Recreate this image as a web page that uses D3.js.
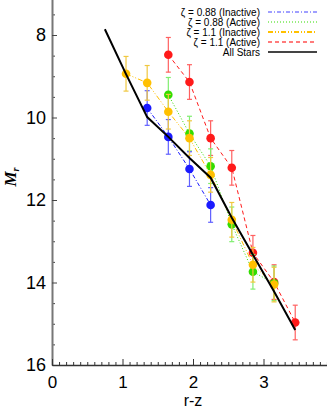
<!DOCTYPE html>
<html>
<head>
<meta charset="utf-8">
<script src="https://cdn.jsdelivr.net/npm/d3@7"></script>
<style>
  html, body { margin: 0; padding: 0; background: #fff; }
  svg { display: block; font-family: "Liberation Sans", Arial, sans-serif; }
</style>
</head>
<body>
<div id="chart"></div>
<script>
// r-z colour bins and absolute magnitudes M_r
const allX = [0.75, 1.05, 1.35, 1.65, 1.95, 2.25, 2.55, 2.85, 3.15, 3.45];
const allM = [7.86, 8.95, 9.99, 10.47, 10.98, 11.46, 12.43, 13.33, 14.22, 15.15];

const blueX = [1.35, 1.65, 1.95, 2.25];
const blueM = [9.77, 10.47, 11.25, 12.12];
const blueErr = [0.42, 0.42, 0.42, 0.42];

const greenX = [1.65, 1.95, 2.25, 2.55, 2.85, 3.15];
const greenM = [9.45, 10.39, 11.18, 12.59, 13.74, 14.02];
const greenErr = [0.42, 0.42, 0.42, 0.42, 0.42, 0.42];

const yellowX = [1.05, 1.35, 1.65, 1.95, 2.25, 2.55, 2.85, 3.15];
const yellowM = [8.94, 9.16, 9.86, 10.5, 11.39, 12.48, 13.57, 14.05];
const yellowErr = [0.42, 0.42, 0.42, 0.42, 0.42, 0.42, 0.42, 0.42];

const redX = [1.65, 1.95, 2.25, 2.55, 2.85, 3.15, 3.45];
const redM = [8.48, 9.14, 10.5, 11.22, 13.28, 13.99, 14.97];
const redErr = [0.42, 0.42, 0.42, 0.42, 0.42, 0.42, 0.42];

const xTicks = [0, 1, 2, 3];
const yTicks = [8, 10, 12, 14, 16];

const legendLabels = [
  'ζ = 0.88 (Inactive)',
  'ζ = 0.88 (Active)',
  'ζ = 1.1 (Inactive)',
  'ζ = 1.1 (Active)',
  'All Stars'
];

const width = 327;
const height = 408;

const svg = d3.select('#chart')
  .append('svg')
  .attr('width', width)
  .attr('height', height);

// Scales
const x = d3.scaleLinear().domain([0, 4]).range([52, 334]);
const y = d3.scaleLinear().domain([7, 16]).range([-6.25, 365]);

// Series definitions (style only)
const series = [
  { xs: redX, ms: redM, err: redErr, color: '#ff1a1a', bar: '#ff6060', dash: '4,3', width: 1 },
  { xs: greenX, ms: greenM, err: greenErr, color: '#33dd00', bar: '#80ee70', dash: '1,2', width: 1 },
  { xs: blueX, ms: blueM, err: blueErr, color: '#1a1aff', bar: '#6060ff', dash: '4,2,1,2', width: 1 },
  { xs: yellowX, ms: yellowM, err: yellowErr, color: '#ffc000', bar: '#f0c840', dash: '5,2,1,2,1,2', width: 1 }
];

// Axes
const yMinor = d3.range(7, 16.01, 0.5).filter(v => v % 2 !== 0);
svg.append('g')
  .attr('transform', `translate(${x(0)},0)`)
  .call(d3.axisLeft(y).tickValues(yMinor).tickSize(-3).tickSizeOuter(0).tickFormat(''))
  .call(g => g.select('.domain').remove())
  .selectAll('line').attr('stroke', '#444');

const yAxis = svg.append('g')
  .attr('transform', `translate(${x(0)},0)`)
  .call(d3.axisLeft(y).tickValues(yTicks).tickSize(-5).tickSizeOuter(0).tickPadding(6));
yAxis.select('.domain').attr('stroke', '#777').attr('stroke-width', 2);
yAxis.selectAll('line').attr('stroke', '#444');
yAxis.selectAll('text')
  .style('font-size', '18px')
  .attr('fill', '#000');

const xMinor = d3.range(0, 40).map(i => i / 10).filter((v, i) => i % 10 !== 0);
svg.append('g')
  .attr('transform', `translate(0,${y(16)})`)
  .call(d3.axisBottom(x).tickValues(xMinor).tickSize(-3).tickSizeOuter(0).tickFormat(''))
  .call(g => g.select('.domain').remove())
  .selectAll('line').attr('stroke', '#333');

const xAxis = svg.append('g')
  .attr('transform', `translate(0,${y(16)})`)
  .call(d3.axisBottom(x).tickValues(xTicks).tickSize(-6).tickSizeOuter(0)
    .tickPadding(11).tickFormat(d3.format('d')));
xAxis.select('.domain').attr('stroke', '#333').attr('stroke-width', 1.5);
xAxis.selectAll('line').attr('stroke', '#333');
xAxis.selectAll('text')
  .style('font-size', '17px')
  .attr('fill', '#000');

// Axis titles
svg.append('text')
  .attr('x', (x(0) + x(4)) / 2)
  .attr('y', 406)
  .attr('text-anchor', 'middle')
  .style('font-size', '16px')
  .text('r-z');

const yTitle = svg.append('text')
  .attr('transform', 'translate(16,177) rotate(-90)')
  .attr('text-anchor', 'middle')
  .style('font-family', '"Liberation Serif", "Times New Roman", serif')
  .style('font-style', 'italic')
  .style('font-weight', 'bold')
  .style('font-size', '17px');
yTitle.append('tspan').text('M');
yTitle.append('tspan')
  .attr('dy', 3)
  .style('font-size', '10px')
  .text('r');

// Data series
const line = d3.line()
  .x(d => x(d[0]))
  .y(d => y(d[1]));

series.forEach(s => {
  const pts = s.xs.map((v, i) => [v, s.ms[i], s.err[i]]);
  const g = svg.append('g');

  g.append('path')
    .datum(pts)
    .attr('fill', 'none')
    .attr('stroke', s.color)
    .attr('stroke-width', s.width)
    .attr('stroke-dasharray', s.dash)
    .attr('d', line);

  // Error bars
  const eb = g.selectAll('.eb')
    .data(pts)
    .enter()
    .append('g')
    .attr('class', 'eb')
    .attr('stroke', s.bar)
    .attr('stroke-width', 1.2);
  eb.append('line')
    .attr('x1', d => x(d[0])).attr('x2', d => x(d[0]))
    .attr('y1', d => y(d[1] - d[2])).attr('y2', d => y(d[1] + d[2]));
  eb.append('line')
    .attr('x1', d => x(d[0]) - 2.5).attr('x2', d => x(d[0]) + 2.5)
    .attr('y1', d => y(d[1] - d[2])).attr('y2', d => y(d[1] - d[2]));
  eb.append('line')
    .attr('x1', d => x(d[0]) - 2.5).attr('x2', d => x(d[0]) + 2.5)
    .attr('y1', d => y(d[1] + d[2])).attr('y2', d => y(d[1] + d[2]));

  g.selectAll('.pt')
    .data(pts)
    .enter()
    .append('circle')
    .attr('class', 'pt')
    .attr('cx', d => x(d[0]))
    .attr('cy', d => y(d[1]))
    .attr('r', 4.3)
    .attr('fill', s.color);
});

// All stars line
svg.append('path')
  .datum(allX.map((v, i) => [v, allM[i]]))
  .attr('fill', 'none')
  .attr('stroke', '#000')
  .attr('stroke-width', 2)
  .attr('d', line);

// Legend
const legendStyles = [
  { color: '#4040ff', dash: '4,2,1,2', width: 1 },
  { color: '#33dd00', dash: '1,2', width: 1 },
  { color: '#ffc000', dash: '5,2,1,2,1,2', width: 2 },
  { color: '#ff5050', dash: '4,3', width: 1.5 },
  { color: '#444', dash: null, width: 2 }
];

const legend = svg.append('g');
legendLabels.forEach((label, i) => {
  const cy = 12 + i * 10;
  legend.append('text')
    .attr('x', 260)
    .attr('y', cy)
    .attr('dy', '0.36em')
    .attr('text-anchor', 'end')
    .style('font-size', '10px')
    .text(label);
  legend.append('line')
    .attr('x1', 268).attr('x2', 317)
    .attr('y1', cy).attr('y2', cy)
    .attr('stroke', legendStyles[i].color)
    .attr('stroke-width', legendStyles[i].width)
    .attr('stroke-dasharray', legendStyles[i].dash);
});
</script>
</body>
</html>
